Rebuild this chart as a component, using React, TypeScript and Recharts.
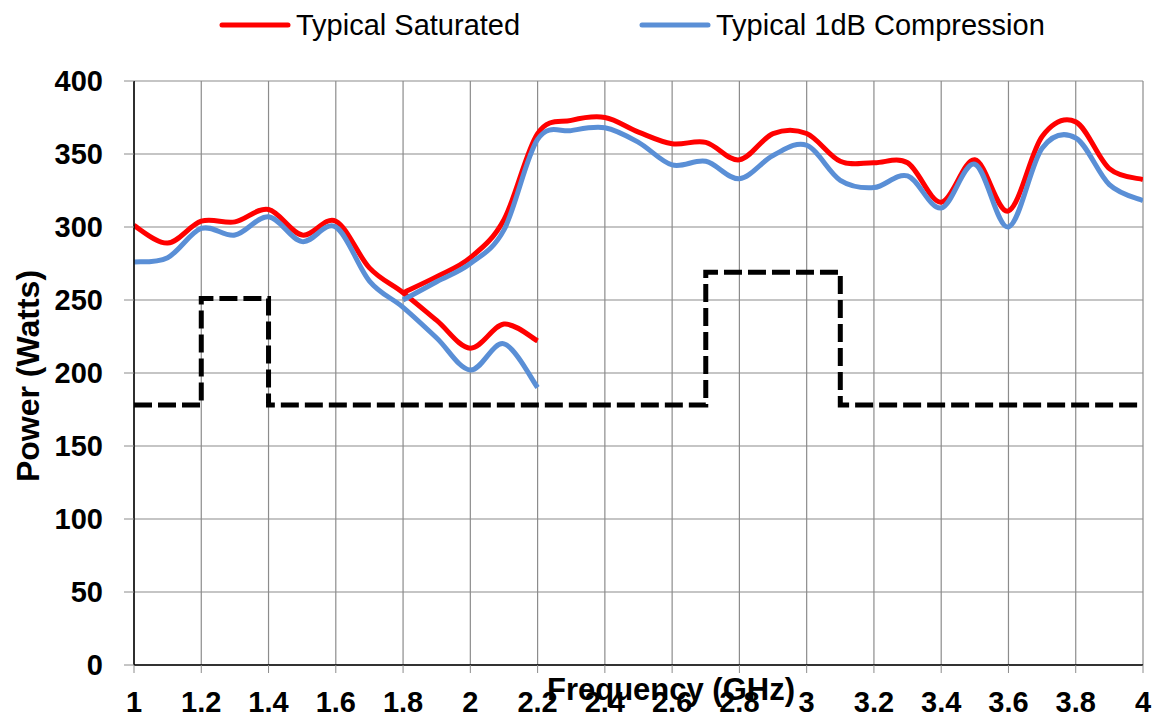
import React from 'react';
import { LineChart, Line, XAxis, YAxis, CartesianGrid, Label } from 'recharts';

const freqSeg1 = [1.0, 1.1, 1.2, 1.3, 1.4, 1.5, 1.6, 1.7, 1.8, 1.9, 2.0, 2.1, 2.2];
const satSeg1 = [301, 289, 304, 303.5, 312, 294.5, 304, 272, 255, 236, 217, 233.5, 222];
const compSeg1 = [276, 279, 299, 294.5, 307, 290, 300, 263, 245, 224, 202, 220, 190];

const freqSeg2 = [1.8, 1.9, 2.0, 2.1, 2.2, 2.3, 2.4, 2.5, 2.6, 2.7, 2.8, 2.9, 3.0, 3.1, 3.2, 3.3, 3.4, 3.5, 3.6, 3.7, 3.8, 3.9, 4.0];
const satSeg2 = [255, 266, 279, 305, 364, 373, 375, 365, 357, 358, 346, 364, 364, 345, 344, 344, 317, 346, 311, 362, 372, 340, 332.5];
const compSeg2 = [250, 262.5, 275, 298, 360, 366, 368, 358, 342.5, 345, 333, 349, 356, 332, 327, 335, 313, 343, 300, 354, 361, 329, 318];

const limitFreq = [1.0, 1.2, 1.4, 2.7, 3.1, 4.0];
const limitPower = [178, 251, 178, 269, 178, 178];

const xTicks = [1, 1.2, 1.4, 1.6, 1.8, 2, 2.2, 2.4, 2.6, 2.8, 3, 3.2, 3.4, 3.6, 3.8, 4];
const yTicks = [0, 50, 100, 150, 200, 250, 300, 350, 400];

const legendLabels = ['Typical Saturated', 'Typical 1dB Compression'];

const zip = (xs: number[], ys: number[]) => xs.map((x, i) => ({ x, y: ys[i] }));

const sat1 = zip(freqSeg1, satSeg1);
const sat2 = zip(freqSeg2, satSeg2);
const comp1 = zip(freqSeg1, compSeg1);
const comp2 = zip(freqSeg2, compSeg2);
const limit = zip(limitFreq, limitPower);

const FONT = '"Liberation Sans", Arial, sans-serif';
const RED = '#FF0000';
const BLUE = '#5A8FD6';
const GRID = '#8c8c8c';

// Catmull-Rom style smoothing (similar to spreadsheet "smoothed line")
const smoothCurve: any = (context: any) => {
  let pts: number[][] = [];
  return {
    areaStart() {},
    areaEnd() {},
    lineStart() {
      pts = [];
    },
    point(x: number, y: number) {
      pts.push([+x, +y]);
    },
    lineEnd() {
      const n = pts.length;
      if (!n) return;
      context.moveTo(pts[0][0], pts[0][1]);
      for (let i = 0; i < n - 1; i++) {
        const p0 = pts[i - 1] || pts[i];
        const p1 = pts[i];
        const p2 = pts[i + 1];
        const p3 = pts[i + 2] || p2;
        const c1x = p1[0] + (p2[0] - p0[0]) / 6;
        const c1y = p1[1] + (p2[1] - p0[1]) / 6;
        const c2x = p2[0] - (p3[0] - p1[0]) / 6;
        const c2y = p2[1] - (p3[1] - p1[1]) / 6;
        context.bezierCurveTo(c1x, c1y, c2x, c2y, p2[0], p2[1]);
      }
    },
  };
};

const tickStyle = { fontFamily: FONT, fontSize: 29, fontWeight: 'bold', fill: '#000' };

export default function App() {
  return (
    <div style={{ position: 'absolute', left: 0, top: 0, width: 1153, height: 715, background: '#fff' }}>
      <svg width={1153} height={60} style={{ position: 'absolute', left: 0, top: 0 }}>
        <line x1={222} y1={25} x2={288} y2={25} stroke={RED} strokeWidth={5} strokeLinecap="round" />
        <text x={296} y={35} fontFamily={FONT} fontSize={29} fill="#000">{legendLabels[0]}</text>
        <line x1={642} y1={25} x2={708} y2={25} stroke={BLUE} strokeWidth={5} strokeLinecap="round" />
        <text x={716} y={35} fontFamily={FONT} fontSize={29} fill="#000">{legendLabels[1]}</text>
      </svg>
      <div style={{ position: 'absolute', left: 0, top: 0 }}>
        <LineChart width={1153} height={715} margin={{ top: 81, right: 10, left: 0, bottom: 0 }}>
          <CartesianGrid stroke={GRID} strokeWidth={1.2} />
          <XAxis
            type="number"
            dataKey="x"
            domain={[1, 4]}
            ticks={xTicks}
            interval={0}
            allowDataOverflow
            height={50}
            tick={tickStyle}
            tickSize={8}
            tickMargin={18}
            tickLine={{ stroke: GRID }}
            axisLine={{ stroke: '#000', strokeWidth: 1.5 }}
          >
            <Label
              content={() => (
                <text x={671} y={700} textAnchor="middle" fontFamily={FONT} fontSize={31} fontWeight="bold" fill="#000">
                  Frequency (GHz)
                </text>
              )}
            />
          </XAxis>
          <YAxis
            type="number"
            domain={[0, 400]}
            ticks={yTicks}
            interval={0}
            width={134}
            tick={tickStyle}
            tickSize={10}
            tickMargin={21}
            tickLine={{ stroke: GRID }}
            axisLine={{ stroke: '#000', strokeWidth: 1.5 }}
          >
            <Label
              content={() => (
                <text
                  x={28}
                  y={376}
                  transform="rotate(-90 28 376)"
                  textAnchor="middle"
                  dominantBaseline="central"
                  fontFamily={FONT}
                  fontSize={32}
                  fontWeight="bold"
                  fill="#000"
                >
                  Power (Watts)
                </text>
              )}
            />
          </YAxis>
          <Line data={limit} dataKey="y" type="stepAfter" stroke="#000" strokeWidth={5} strokeDasharray="18 6" dot={false} isAnimationActive={false} />
          <Line data={sat1} dataKey="y" type={smoothCurve} stroke={RED} strokeWidth={5} dot={false} isAnimationActive={false} />
          <Line data={sat2} dataKey="y" type={smoothCurve} stroke={RED} strokeWidth={5} dot={false} isAnimationActive={false} />
          <Line data={comp1} dataKey="y" type={smoothCurve} stroke={BLUE} strokeWidth={5} dot={false} isAnimationActive={false} />
          <Line data={comp2} dataKey="y" type={smoothCurve} stroke={BLUE} strokeWidth={5} dot={false} isAnimationActive={false} />
        </LineChart>
      </div>
    </div>
  );
}
